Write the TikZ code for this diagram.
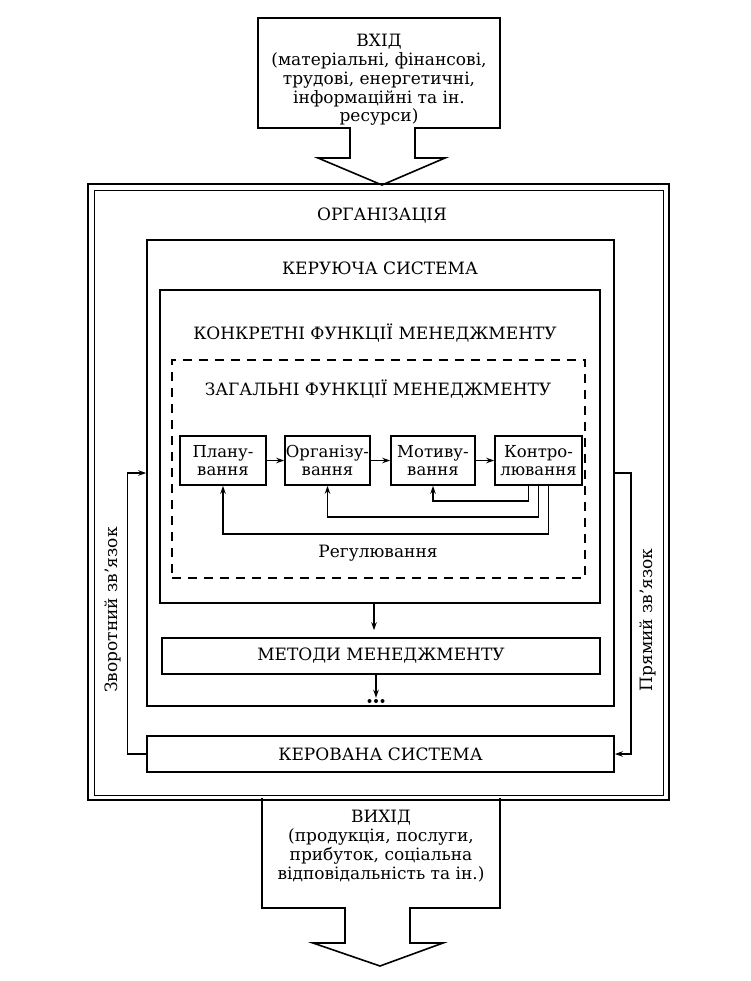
\documentclass[tikz,border=0pt]{standalone}
\usepackage{fontspec}
\setmainfont{DejaVu Serif}
\usetikzlibrary{arrows.meta,calc}
\newcommand{\txt}{\fontsize{17}{18.75}\selectfont}
\newcommand{\ftxt}{\fontsize{16.5}{18}\selectfont}
\begin{document}
\begin{tikzpicture}[x=1pt,y=-1pt,
  frame/.style={draw, line width=1.6pt, inner sep=0pt},
  fnbox/.style={draw, line width=1.6pt, minimum height=49pt, align=center, inner sep=0pt, font=\ftxt},
  arr/.style={-{Stealth[length=8pt,width=5.5pt]}, line width=1.4pt},
  lbl/.style={font=\txt, align=center, inner sep=0pt}]
\useasboundingbox (0,0) rectangle (751,981);
% input shape
\draw[line width=1.6pt, line join=miter] (258,18) -- (500,18) -- (500,128) -- (415,128) -- (415,158) -- (445,158) -- (382,185) -- (318,158) -- (350,158) -- (350,128) -- (258,128) -- cycle;
\node[lbl] (vhid) at (379,80) {ВХІД\\(матеріальні, фінансові,\\трудові, енергетичні,\\інформаційні та ін.\\ресурси)};
% organisation
\node[frame, line width=2.4pt, minimum width=581pt, minimum height=616pt] (org) at (378.5,492) {};
\node[draw, line width=0.8pt, inner sep=0pt, minimum width=569pt, minimum height=605pt] (orgin) at (378.5,492.5) {};
\node[lbl] (orgt) at (382,216) {ОРГАНІЗАЦІЯ};
% output shape
\draw[line width=1.6pt, line join=miter] (262,798) -- (262,908) -- (345,908) -- (345,943) -- (313,943) -- (380,966) -- (443,943) -- (410,943) -- (410,908) -- (500,908) -- (500,798);
\node[lbl] (vyhid) at (381,846) {ВИХІД\\(продукція, послуги,\\прибуток, соціальна\\відповідальність та ін.)};
% managing system
\node[frame, minimum width=467pt, minimum height=466pt] (ker) at (380.5,473) {};
\node[lbl] (kert) at (380,268) {КЕРУЮЧА СИСТЕМА};
\node[frame, minimum width=440pt, minimum height=313pt] (konk) at (380,446.5) {};
\node[lbl] (konkt) at (375,333) {КОНКРЕТНІ ФУНКЦІЇ МЕНЕДЖМЕНТУ};
\node[draw, line width=1.2pt, dash pattern=on 9pt off 7pt, inner sep=0pt, minimum width=413pt, minimum height=218pt] (zag) at (378.5,469) {};
\node[lbl] (zagt) at (378,389) {ЗАГАЛЬНІ ФУНКЦІЇ МЕНЕДЖМЕНТУ};
\node[fnbox, minimum width=86pt] (plan) at (223,460.5) {Плану-\\вання};
\node[fnbox, minimum width=85pt] (orgf) at (327.5,460.5) {Організу-\\вання};
\node[fnbox, minimum width=84pt] (mot) at (433,460.5) {Мотиву-\\вання};
\node[fnbox, minimum width=87pt] (kon) at (538.5,460.5) {Контро-\\лювання};
\draw[arr] (plan) -- (orgf);
\draw[arr] (orgf) -- (mot);
\draw[arr] (mot) -- (kon);
\draw[arr] ([xshift=-10pt]kon.south) -- ++(0,15) -| (mot.south);
\draw[arr] (kon.south) -- ++(0,31) -| (orgf.south);
\draw[arr] ([xshift=10pt]kon.south) -- ++(0,48) -| (plan.south);
\node[lbl] (reg) at (378,553) {Регулювання};
% methods
\node[frame, minimum width=438pt, minimum height=36pt, font=\txt] (met) at (381,656) {МЕТОДИ МЕНЕДЖМЕНТУ};
\draw[arr, shorten >=7pt] ([xshift=-6pt]konk.south) -- ([xshift=-7pt]met.north);
\draw[arr] ([xshift=-5pt]met.south) -- ++(0,23);
\fill (369.5,701) circle (2pt) (376,701) circle (2pt) (382.5,701) circle (2pt);
% managed system
\node[frame, minimum width=467pt, minimum height=36pt, font=\txt] (kerov) at (380.5,754) {КЕРОВАНА СИСТЕМА};
\draw[arr] (kerov.west) -- ++(-19,0) |- (ker.west);
\draw[arr] (ker.east) -- ++(16,0) |- (kerov.east);
\node[lbl, rotate=90] (zv) at (113,610) {Зворотний зв’язок};
\node[lbl, rotate=90] (pr) at (648,620) {Прямий зв’язок};
\end{tikzpicture}
\end{document}
